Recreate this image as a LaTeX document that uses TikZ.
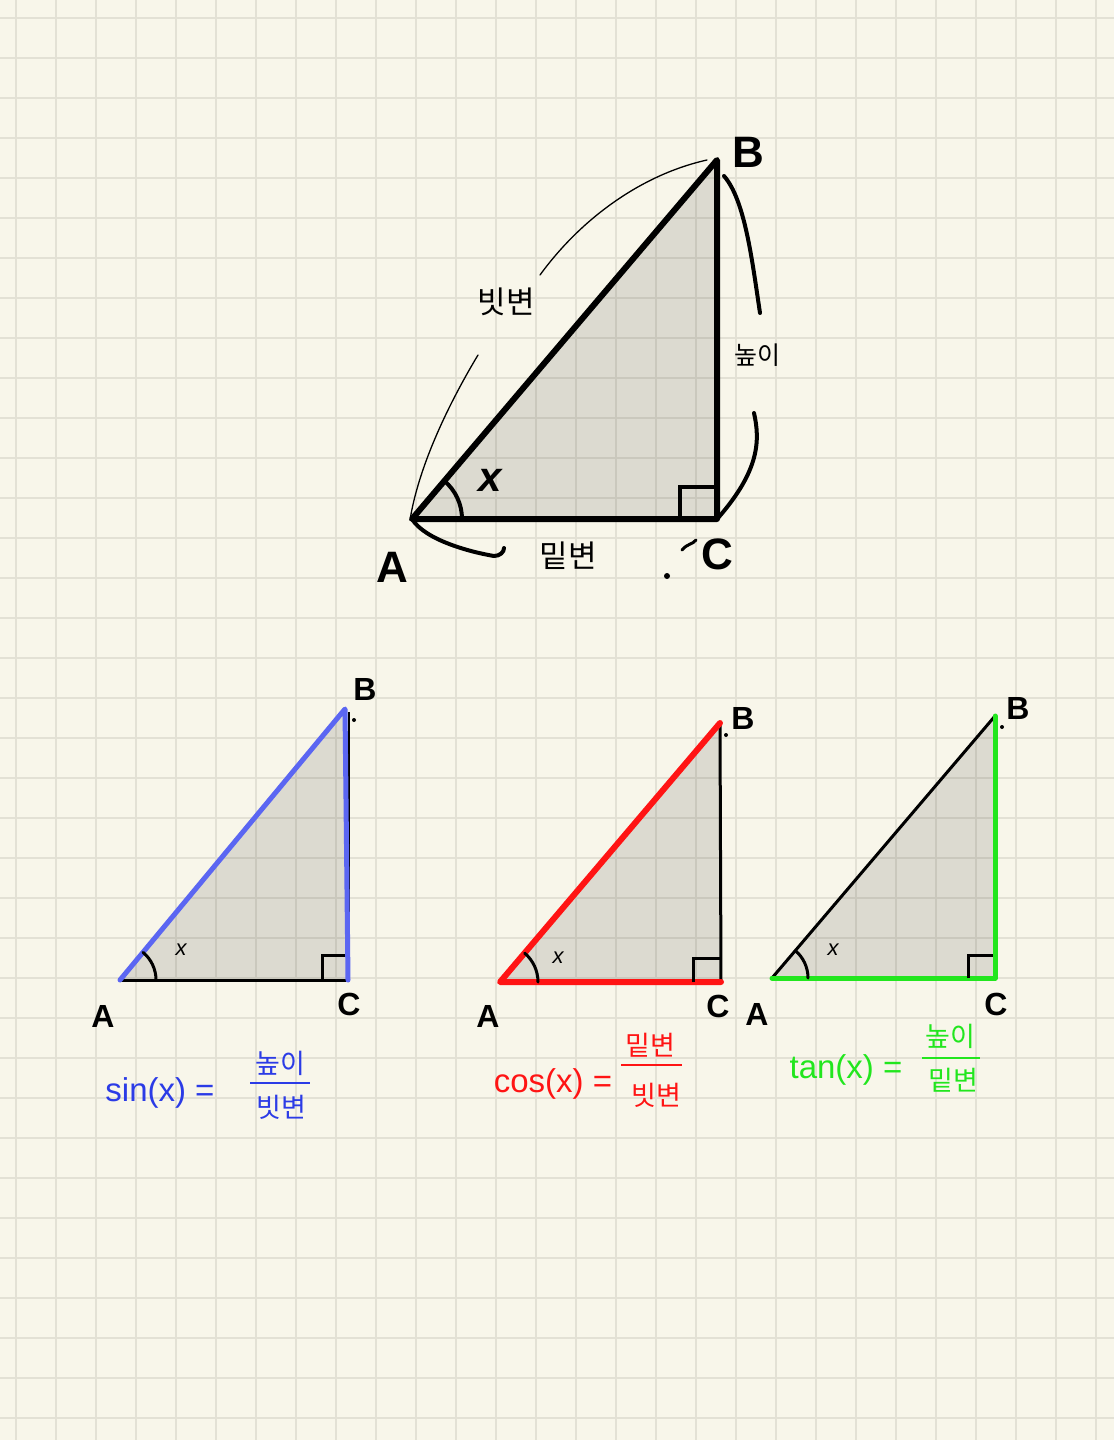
\documentclass[tikz,border=0pt]{standalone}
\usepackage{fontspec}
\setmainfont{Liberation Sans}
\newfontfamily\kr{Noto Sans CJK KR}
\definecolor{paper}{HTML}{F8F6EA}
\definecolor{gridc}{HTML}{E3E1D5}
\definecolor{tblue}{HTML}{5B66F2}
\definecolor{fblue}{HTML}{2B3BE6}
\definecolor{tred}{HTML}{FF1414}
\definecolor{tgreen}{HTML}{22E61E}
\tikzset{
  gridline/.style={gridc, line width=2pt},
  shade/.style={fill=black, fill opacity=0.11},
  bigside/.style={line width=6pt, line cap=round, line join=round},
  side/.style={line width=4pt, line cap=round, line join=round},
  thinside/.style={line width=3pt, line cap=round, line join=round},
  brace/.style={line width=4pt, line cap=round},
  thinbrace/.style={line width=1.3pt, line cap=round},
  bigvertex/.style={font=\fontsize{44}{44}\selectfont\bfseries, inner sep=0pt},
  vertex/.style={font=\fontsize{32}{32}\selectfont\bfseries, inner sep=0pt},
  kor/.style={font=\kr\fontsize{31}{31}\selectfont, inner sep=0pt},
  smallx/.style={font=\fontsize{22}{22}\selectfont\itshape, inner sep=0pt},
  formula/.style={font=\fontsize{33}{33}\selectfont, inner sep=0pt},
  fracpart/.style={font=\kr\fontsize{27}{27}\selectfont, inner sep=0pt},
}
\begin{document}
\begin{tikzpicture}[x=1pt,y=-1pt]
\fill[paper] (0,0) rectangle (1114,1440);
\useasboundingbox (0,0) rectangle (1114,1440);
\foreach \i in {0,...,27} \draw[gridline] (16+40*\i,0) -- (16+40*\i,1440);
\foreach \j in {0,...,35} \draw[gridline] (0,17.5+40*\j) -- (1114,17.5+40*\j);

% ---------- top triangle ----------
\coordinate (tA) at (412,519);
\coordinate (tB) at (717,160);
\coordinate (tC) at (717,519);
\fill[shade] (tA) -- (tB) -- (tC) -- cycle;
\draw[bigside] (tA) -- (tB) -- (tC) -- cycle;
\draw[line width=4pt] (680,519) -- (680,487) -- (717,487);
\draw[line width=4pt, line cap=round] (tA) ++(0:50) arc[start angle=0, end angle=-49.6, radius=50];
\node[font=\fontsize{42}{42}\selectfont\bfseries\itshape, inner sep=0pt] (tx) at (490,480) {x};
\node[bigvertex] (tBl) at (748,152) {B};
\node[bigvertex] (tAl) at (392,567) {A};
\node[bigvertex] (tCl) at (717,554) {C};
\fill (667,576) circle (3pt);
\draw[line width=3pt, line cap=round] (682,550) .. controls (688,543) and (692,545) .. (696,540);

% braces
\draw[thinbrace] (410,520) .. controls (418,470) and (445,410) .. (478,355);
\draw[thinbrace] (540,275) .. controls (580,220) and (640,175) .. (707,160);
\draw[brace] (724,176) .. controls (745,200) and (752,260) .. (760,313);
\draw[brace] (754,413) .. controls (760,440) and (760,470) .. (718,518);
\draw[brace] (412,519) .. controls (425,540) and (470,552) .. (494,556) .. controls (500,556) and (504,552) .. (504,548);
\node[kor] (hyp) at (506,302) {빗변};
\node[kor, font=\kr\fontsize{25}{25}\selectfont] (hgt) at (757,355) {높이};
\node[kor] (base) at (568,556) {밑변};

% ---------- blue triangle ----------
\coordinate (bA) at (120,980);
\coordinate (bB) at (345,709);
\coordinate (bC) at (348,980);
\fill[shade] (bA) -- (bB) -- (bC) -- cycle;
\draw[thinside] (bA) -- (bC);
\draw[line width=2pt] (349,712) -- (349,980);
\draw[side, tblue, line width=5pt] (bA) -- (bB) -- (bC);
\draw[line width=3pt] (322,980) -- (322,955) -- (345,955);
\draw[line width=3pt, line cap=round] (bA) ++(0:36) arc[start angle=0, end angle=-50.2, radius=36];
\node[smallx] (bx) at (181,950) {x};
\node[vertex] (bBl) at (365,689) {B};
\fill (354,720) circle (2pt);
\node[vertex] (bAl) at (103,1016) {A};
\node[vertex] (bCl) at (349,1004) {C};

% ---------- red triangle ----------
\coordinate (rA) at (500,982);
\coordinate (rB) at (720,723);
\coordinate (rC) at (721,982);
\fill[shade] (rA) -- (rB) -- (rC) -- cycle;
\draw[line width=3pt] (rB) -- (rC);
\draw[side, tred, line width=6pt] (rB) -- (rA) -- (rC);
\draw[line width=3pt] (693,982) -- (693,958) -- (720,958);
\draw[line width=3pt, line cap=round] (rA) ++(0:38) arc[start angle=0, end angle=-49.6, radius=38];
\node[smallx] (rx) at (558,958) {x};
\node[vertex] (rBl) at (743,718) {B};
\fill (726,735) circle (2pt);
\node[vertex] (rAl) at (488,1016) {A};
\node[vertex] (rCl) at (718,1006) {C};

% ---------- green triangle ----------
\coordinate (gA) at (772,978);
\coordinate (gB) at (995,716);
\coordinate (gC) at (995,978);
\fill[shade] (gA) -- (gB) -- (gC) -- cycle;
\draw[thinside] (gA) -- (gB);
\draw[side, tgreen, line width=5pt] (gA) -- (gC) -- (gB);
\draw[line width=3pt] (968,978) -- (968,955) -- (993,955);
\draw[line width=3pt, line cap=round] (gA) ++(0:36) arc[start angle=0, end angle=-49.7, radius=36];
\node[smallx] (gx) at (833,950) {x};
\node[vertex] (gBl) at (1018,708) {B};
\fill (1002,727) circle (2pt);
\node[vertex] (gAl) at (757,1014) {A};
\node[vertex] (gCl) at (996,1004) {C};

% ---------- formulas ----------
\node[formula, text=fblue] (sinf) at (160,1093) {sin(x) =};
\node[fracpart, text=fblue] (sinn) at (280,1063) {높이};
\draw[fblue, line width=2pt] (250,1083) -- (310,1083);
\node[fracpart, text=fblue] (sind) at (281,1107) {빗변};

\node[formula, text=tred] (cosf) at (553,1084) {cos(x) =};
\node[fracpart, text=tred] (cosn) at (650,1045) {밑변};
\draw[tred, line width=2pt] (621,1065) -- (682,1065);
\node[fracpart, text=tred] (cosd) at (656,1095) {빗변};

\node[formula, text=tgreen] (tanf) at (846,1070) {tan(x) =};
\node[fracpart, text=tgreen] (tann) at (950,1036) {높이};
\draw[tgreen, line width=2pt] (922,1058) -- (980,1058);
\node[fracpart, text=tgreen] (tand) at (953,1080) {밑변};
\end{tikzpicture}
\end{document}
